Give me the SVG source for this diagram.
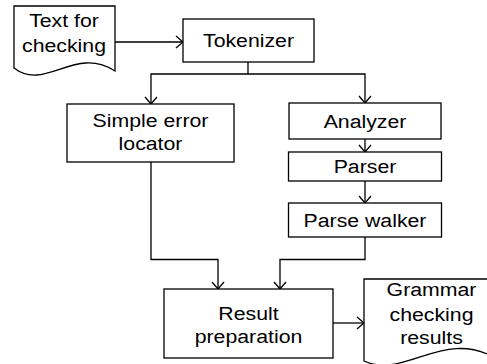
<svg xmlns="http://www.w3.org/2000/svg" width="487" height="364" viewBox="0 0 487 364">
<style>
.box{fill:#fff;stroke:#000;stroke-width:1.3}
.doc{fill:#fff;stroke:#000;stroke-width:1.3;stroke-linejoin:miter}
.t{font-family:"Liberation Sans",Arial,sans-serif;font-size:19px;text-anchor:middle;fill:#000}
.c{fill:none;stroke:#000;stroke-width:1.3}
</style>
<defs>
<marker id="a" markerUnits="userSpaceOnUse" markerWidth="16" markerHeight="16" viewBox="-9 -8 10 16" refX="0" refY="0" orient="auto">
<path d="M-7,-6 L0,0 L-7,6" fill="none" stroke="#000" stroke-width="1.3"/>
</marker>
</defs>
<rect width="487" height="364" fill="#fff"/>
<g id="connectors">
<path class="c" d="M115,42 H183" marker-end="url(#a)"/>
<path class="c" d="M248,62 V74 H151 V104" marker-end="url(#a)"/>
<path class="c" d="M248,74 H365 V103" marker-end="url(#a)"/>
<path class="c" d="M365,139 V152" marker-end="url(#a)"/>
<path class="c" d="M365,181 V203" marker-end="url(#a)"/>
<path class="c" d="M365,237 V259.5 H280 V289" marker-end="url(#a)"/>
<path class="c" d="M151,162 V259.5 H218 V289" marker-end="url(#a)"/>
<path class="c" d="M333,323 H364" marker-end="url(#a)"/>
</g>
<g id="text-for-checking">
<path class="doc" d="M14,6 H115 V71 C75,45 45,92 14,68 Z"/>
<text class="t" transform="translate(64,27) scale(1.12,1)">Text for</text>
<text class="t" transform="translate(64,52) scale(1.12,1)">checking</text>
</g>
<g id="tokenizer">
<rect class="box" x="183" y="19" width="131" height="43"/>
<text class="t" transform="translate(248.5,47) scale(1.12,1)">Tokenizer</text>
</g>
<g id="simple-error-locator">
<rect class="box" x="67" y="104" width="167" height="58"/>
<text class="t" transform="translate(150.5,127) scale(1.12,1)">Simple error</text>
<text class="t" transform="translate(150.5,150) scale(1.12,1)">locator</text>
</g>
<g id="analyzer">
<rect class="box" x="289" y="103" width="152" height="36"/>
<text class="t" transform="translate(365,128) scale(1.12,1)">Analyzer</text>
</g>
<g id="parser">
<rect class="box" x="288.5" y="152" width="153" height="29"/>
<text class="t" transform="translate(365,173) scale(1.12,1)">Parser</text>
</g>
<g id="parse-walker">
<rect class="box" x="288.5" y="203" width="153" height="34"/>
<text class="t" transform="translate(365,227) scale(1.12,1)">Parse walker</text>
</g>
<g id="result-preparation">
<rect class="box" x="164" y="289" width="169" height="69"/>
<text class="t" transform="translate(248.5,320) scale(1.12,1)">Result</text>
<text class="t" transform="translate(248.5,343) scale(1.12,1)">preparation</text>
</g>
<g id="grammar-checking-results">
<path class="doc" d="M364,279 H499 V360 C444,326 405,380 364,361 Z"/>
<text class="t" transform="translate(431.5,296) scale(1.12,1)">Grammar</text>
<text class="t" transform="translate(431.5,320.5) scale(1.12,1)">checking</text>
<text class="t" transform="translate(431.5,344) scale(1.12,1)">results</text>
</g>
</svg>
